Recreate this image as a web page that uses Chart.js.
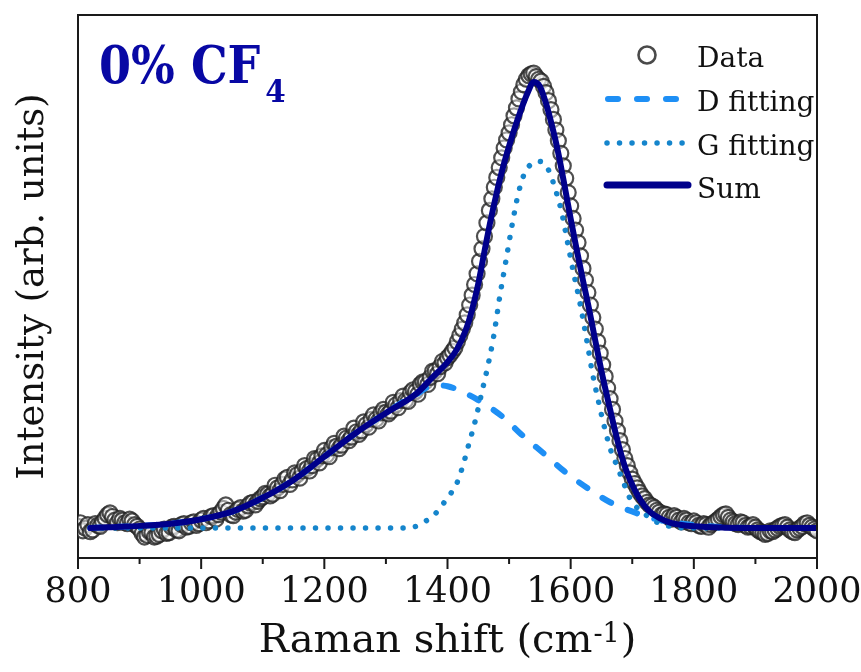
<!DOCTYPE html>
<html><head><meta charset="utf-8">
<script src="https://cdn.jsdelivr.net/npm/chart.js@4/dist/chart.umd.min.js"></script>
<style>html,body{margin:0;padding:0;background:#fff;}#wrap{width:861px;height:672px;}</style>
</head><body><div id="wrap"><canvas id="c" width="861" height="672"></canvas></div>
<script>
// ---- data ----
const dataX = [800,808,816,824,832,840,848,856,864,872,880,888,896,904,912,920,928,936,944,952,960,968,976,984,992,
1000,1008,1016,1024,1032,1040,1048,1056,1064,1072,1080,1088,1096,1104,1112,1120,1128,1136,1144,1152,1160,1168,1176,1184,1192,
1200,1208,1216,1224,1232,1240,1248,1256,1264,1272,1280,1288,1296,1304,1312,1320,1328,1336,1344,1352,1360,1368,1376,1384,1392,
1400,1408,1416,1424,1432,1440,1448,1456,1464,1472,1480,1488,1496,1504,1512,1520,1528,1536,1544,1552,1560,1568,1576,1584,1592,
1600,1608,1616,1624,1632,1640,1648,1656,1664,1672,1680,1688,1696,1704,1712,1720,1728,1736,1744,1752,1760,1768,1776,1784,1792,
1800,1808,1816,1824,1832,1840,1848,1856,1864,1872,1880,1888,1896,1904,1912,1920,1928,1936,1944,1952,1960,1968,1976,1984,1992,2000];
const dataY = [0.004,-0.006,0.008,-0.004,0.006,0.014,0.030,0.026,0.012,0.018,0.010,0.016,0.004,-0.012,-0.016,-0.010,-0.018,-0.006,-0.012,0.002,-0.004,0.008,0.002,0.012,0.006,
0.018,0.012,0.026,0.020,0.036,0.052,0.030,0.036,0.046,0.040,0.056,0.052,0.066,0.078,0.072,0.096,0.084,0.110,0.098,0.124,0.112,0.140,0.128,0.156,0.146,
0.174,0.160,0.190,0.178,0.206,0.196,0.224,0.210,0.238,0.226,0.254,0.240,0.266,0.256,0.282,0.270,0.296,0.284,0.310,0.300,0.328,0.322,0.352,0.346,0.374,
0.382,0.396,0.418,0.446,0.478,0.522,0.570,0.626,0.684,0.738,0.786,0.830,0.870,0.904,0.942,0.978,1.006,1.018,1.012,1.002,0.976,0.938,0.892,0.840,0.784,
0.722,0.668,0.610,0.556,0.500,0.446,0.392,0.340,0.290,0.240,0.196,0.156,0.124,0.100,0.080,0.066,0.052,0.046,0.036,0.032,0.024,0.028,0.018,0.022,0.012,
0.016,0.006,0.010,0.002,0.012,0.020,0.030,0.024,0.014,0.008,0.012,0.002,0.008,-0.004,-0.010,-0.012,-0.008,0.000,0.006,0.002,-0.008,-0.004,0.004,0.012,0.002,-0.006];
// in-between measurement points
const dataX2 = [804,812,820,828,836,844,852,860,868,876,884,892,900,908,916,924,932,940,948,956,964,972,980,988,996,
1004,1012,1020,1028,1036,1044,1052,1060,1068,1076,1084,1092,1100,1108,1116,1124,1132,1140,1148,1156,1164,1172,1180,1188,1196,
1204,1212,1220,1228,1236,1244,1252,1260,1268,1276,1284,1292,1300,1308,1316,1324,1332,1340,1348,1356,1364,1372,1380,1388,1396,
1404,1412,1420,1428,1436,1444,1452,1460,1468,1476,1484,1492,1500,1508,1516,1524,1532,1540,1548,1556,1564,1572,1580,1588,1596,
1604,1612,1620,1628,1636,1644,1652,1660,1668,1676,1684,1692,1700,1708,1716,1724,1732,1740,1748,1756,1764,1772,1780,1788,1796,
1804,1812,1820,1828,1836,1844,1852,1860,1868,1876,1884,1892,1900,1908,1916,1924,1932,1940,1948,1956,1964,1972,1980,1988,1996];
const dataY2 = [0.012,0.000,-0.008,0.010,0.004,0.022,0.034,0.018,0.022,0.012,0.020,0.008,-0.002,-0.020,-0.008,-0.020,-0.014,-0.002,-0.010,0.004,-0.006,0.010,0.004,0.014,0.010,
0.022,0.016,0.028,0.030,0.044,0.040,0.028,0.042,0.038,0.050,0.058,0.060,0.070,0.076,0.076,0.090,0.098,0.114,0.108,0.120,0.128,0.134,0.140,0.154,0.162,
0.164,0.180,0.184,0.186,0.202,0.204,0.216,0.218,0.232,0.244,0.244,0.258,0.260,0.262,0.276,0.286,0.286,0.304,0.306,0.322,0.328,0.338,0.352,0.362,0.370,
0.388,0.404,0.432,0.460,0.500,0.546,0.598,0.654,0.712,0.764,0.808,0.852,0.886,0.924,0.962,0.994,1.014,1.020,1.006,0.990,0.958,0.916,0.868,0.812,0.752,
0.694,0.640,0.582,0.528,0.472,0.418,0.366,0.314,0.266,0.218,0.176,0.140,0.110,0.090,0.072,0.058,0.050,0.040,0.030,0.030,0.020,0.024,0.014,0.018,0.010,
0.012,0.004,0.008,0.008,0.016,0.026,0.032,0.018,0.010,0.014,0.006,0.004,0.002,-0.008,-0.014,-0.006,-0.004,0.004,0.008,-0.004,-0.010,0.000,0.010,0.006,-0.002];

const sumX = [820,850,900,950,1000,1050,1100,1150,1200,1250,1300,1350,1375,1400,1415,1430,1440,1450,1460,1470,1480,1490,1500,1510,1520,1530,1540,1550,1560,1570,1580,1590,1600,1610,1620,1630,1640,1650,1660,1670,1680,1690,1700,1710,1720,1730,1745,1760,1780,1800,1850,1900,1950,2000];
const sumY = [0.000,0.002,0.005,0.010,0.020,0.037,0.068,0.108,0.160,0.212,0.258,0.302,0.337,0.372,0.400,0.445,0.490,0.548,0.620,0.690,0.752,0.808,0.856,0.900,0.940,0.975,1.000,0.990,0.952,0.900,0.840,0.768,0.693,0.623,0.555,0.490,0.420,0.352,0.290,0.230,0.175,0.130,0.097,0.070,0.050,0.035,0.022,0.013,0.007,0.004,0.001,0.000,0.000,0.000];

const dFitX = [820,850,900,950,1000,1050,1100,1150,1200,1250,1300,1330,1350,1365,1380,1400,1420,1450,1490,1520,1560,1590,1627,1664,1706,1745,1800,1850,1900,2000];
const dFitY = [0.000,0.002,0.005,0.010,0.020,0.037,0.068,0.108,0.160,0.212,0.258,0.285,0.300,0.314,0.320,0.318,0.308,0.287,0.249,0.210,0.163,0.127,0.090,0.058,0.034,0.018,0.007,0.002,0.000,0.000];

const gFitX = [820,1300,1340,1360,1380,1400,1415,1425,1435,1445,1455,1465,1475,1485,1495,1505,1515,1525,1535,1545,1555,1565,1575,1585,1595,1605,1615,1625,1635,1645,1655,1665,1675,1685,1695,1705,1720,1735,1750,1770,1800,2000];
const gFitY = [0,0,0.001,0.012,0.032,0.068,0.100,0.140,0.190,0.240,0.300,0.360,0.430,0.520,0.600,0.680,0.750,0.795,0.815,0.822,0.820,0.800,0.760,0.710,0.640,0.570,0.505,0.430,0.350,0.285,0.225,0.175,0.140,0.105,0.070,0.050,0.032,0.017,0.008,0.002,0,0];

const xMajorTicks = [800,1000,1200,1400,1600,1800,2000];
const xMinorTicks = [900,1100,1300,1500,1700,1900];
const seriesNames = ['Data','D fitting','G fitting','Sum'];
const panelLabel = '0% CF';
const panelSub = '4';
const xTitleMain = 'Raman shift (cm';
const xTitleSup = '-1';
const yTitle = 'Intensity (arb. units)';

// ---- styles ----
const COL_DATA_EDGE = 'rgba(35,35,35,0.8)';
const COL_DATA_FILL = 'rgba(255,255,255,0.45)';
const COL_D = '#1e8ff5';
const COL_G = '#1585cc';
const COL_SUM = '#00008b';
const COL_LABEL = '#0808a4';
const FONT = '"DejaVu Serif", "Liberation Serif", serif';

const pts = (xs, ys) => xs.map((x, i) => ({x: x, y: ys[i]}));
const dataPts = pts(dataX, dataY).concat(pts(dataX2, dataY2)).sort((p, q) => p.x - q.x);

const overlay = {
  id: 'overlay',
  afterDraw(chart) {
    const ctx = chart.ctx, a = chart.chartArea, xs = chart.scales.x;
    ctx.save();
    ctx.strokeStyle = '#1a1a1a';
    ctx.lineWidth = 2;
    ctx.beginPath();
    ctx.moveTo(a.left, a.top); ctx.lineTo(a.right, a.top); ctx.lineTo(a.right, a.bottom);
    ctx.stroke();
    ctx.beginPath();
    xMajorTicks.forEach(v => { const p = xs.getPixelForValue(v); ctx.moveTo(p, a.bottom); ctx.lineTo(p, a.bottom + 11); });
    xMinorTicks.forEach(v => { const p = xs.getPixelForValue(v); ctx.moveTo(p, a.bottom); ctx.lineTo(p, a.bottom + 6); });
    ctx.stroke();

    // x title with superscript
    const cx = (a.left + a.right) / 2;
    ctx.fillStyle = '#111';
    ctx.textBaseline = 'alphabetic';
    ctx.textAlign = 'left';
    ctx.font = '40px ' + FONT;
    const w1 = ctx.measureText(xTitleMain).width;
    const w3 = ctx.measureText(')').width;
    ctx.font = '27px ' + FONT;
    const w2 = ctx.measureText(xTitleSup).width;
    let x0 = cx - (w1 + w2 + w3 + 2) / 2;
    ctx.font = '40px ' + FONT;
    ctx.fillText(xTitleMain, x0, 652);
    ctx.font = '27px ' + FONT;
    ctx.fillText(xTitleSup, x0 + w1 + 1, 642);
    ctx.font = '40px ' + FONT;
    ctx.fillText(')', x0 + w1 + w2 + 2, 652);

    // panel label
    ctx.fillStyle = COL_LABEL;
    ctx.save();
    ctx.translate(99, 83);
    ctx.scale(0.96, 1.08);
    ctx.font = 'bold 48px ' + FONT;
    ctx.fillText(panelLabel, 0, 0);
    const wl = ctx.measureText(panelLabel).width;
    ctx.restore();
    ctx.save();
    ctx.translate(99 + wl * 0.96 + 5, 102);
    ctx.scale(0.92, 1.0);
    ctx.font = 'bold 32px ' + FONT;
    ctx.fillText(panelSub, 0, 0);
    ctx.restore();

    // legend
    ctx.lineCap = 'round';
    ctx.beginPath();
    ctx.arc(647, 55, 8.5, 0, Math.PI * 2);
    ctx.fillStyle = '#fff'; ctx.fill();
    ctx.strokeStyle = '#4a4a4a'; ctx.lineWidth = 2.6; ctx.stroke();

    ctx.strokeStyle = COL_D; ctx.lineWidth = 6; ctx.setLineDash([10, 19]);
    ctx.beginPath(); ctx.moveTo(608, 99); ctx.lineTo(690, 99); ctx.stroke();

    ctx.strokeStyle = COL_G; ctx.lineWidth = 5.5; ctx.setLineDash([0.01, 12.5]);
    ctx.beginPath(); ctx.moveTo(607, 143); ctx.lineTo(686, 143); ctx.stroke();

    ctx.setLineDash([]);
    ctx.strokeStyle = COL_SUM; ctx.lineWidth = 7;
    ctx.beginPath(); ctx.moveTo(607, 185); ctx.lineTo(688, 185); ctx.stroke();

    ctx.fillStyle = '#111';
    ctx.font = '28px ' + FONT;
    const base = [67, 111, 155, 198];
    seriesNames.forEach((s, i) => ctx.fillText(s, 697, base[i]));
    ctx.restore();
  }
};

new Chart(document.getElementById('c'), {
  type: 'scatter',
  data: {
    datasets: [
      {label: seriesNames[0], data: dataPts, showLine: false, pointRadius: 7.5, pointHoverRadius: 7.5,
       borderWidth: 2.2, borderColor: COL_DATA_EDGE, backgroundColor: COL_DATA_FILL, order: 4, clip: 0},
      {label: seriesNames[1], data: pts(dFitX, dFitY), showLine: true, pointRadius: 0, borderWidth: 6,
       borderColor: COL_D, borderDash: [10, 18], borderCapStyle: 'round', cubicInterpolationMode: 'monotone', order: 3, clip: 0},
      {label: seriesNames[2], data: pts(gFitX, gFitY), showLine: true, pointRadius: 0, borderWidth: 5.5,
       borderColor: COL_G, borderDash: [0.01, 12.5], borderCapStyle: 'round', cubicInterpolationMode: 'monotone', order: 2, clip: 0},
      {label: seriesNames[3], data: pts(sumX, sumY), showLine: true, pointRadius: 0, borderWidth: 6,
       borderColor: COL_SUM, borderCapStyle: 'round', borderJoinStyle: 'round', cubicInterpolationMode: 'monotone', order: 1, clip: 0}
    ]
  },
  options: {
    responsive: false, animation: false, devicePixelRatio: 1,
    layout: {padding: {top: 15, right: 44, left: 0, bottom: 0}},
    plugins: {legend: {display: false}, tooltip: {enabled: false}},
    scales: {
      x: {
        type: 'linear', min: 800, max: 2000,
        afterFit: s => { s.height = 114; s.paddingLeft = 0; s.paddingRight = 0; },
        grid: {display: false, drawTicks: false},
        border: {display: true, color: '#1a1a1a', width: 2},
        ticks: {stepSize: 200, autoSkip: false, maxRotation: 0, padding: 14, color: '#111',
                font: {family: 'DejaVu Serif', size: 35}, callback: v => String(v)}
      },
      y: {
        type: 'linear', min: -0.067, max: 1.15,
        afterFit: s => { s.width = 78; },
        grid: {display: false, drawTicks: false},
        border: {display: true, color: '#1a1a1a', width: 2},
        ticks: {display: false},
        title: {display: true, text: yTitle, color: '#111', font: {family: 'DejaVu Serif', size: 37},
                padding: {top: 11, bottom: 0}}
      }
    }
  },
  plugins: [overlay]
});
</script></body></html>
